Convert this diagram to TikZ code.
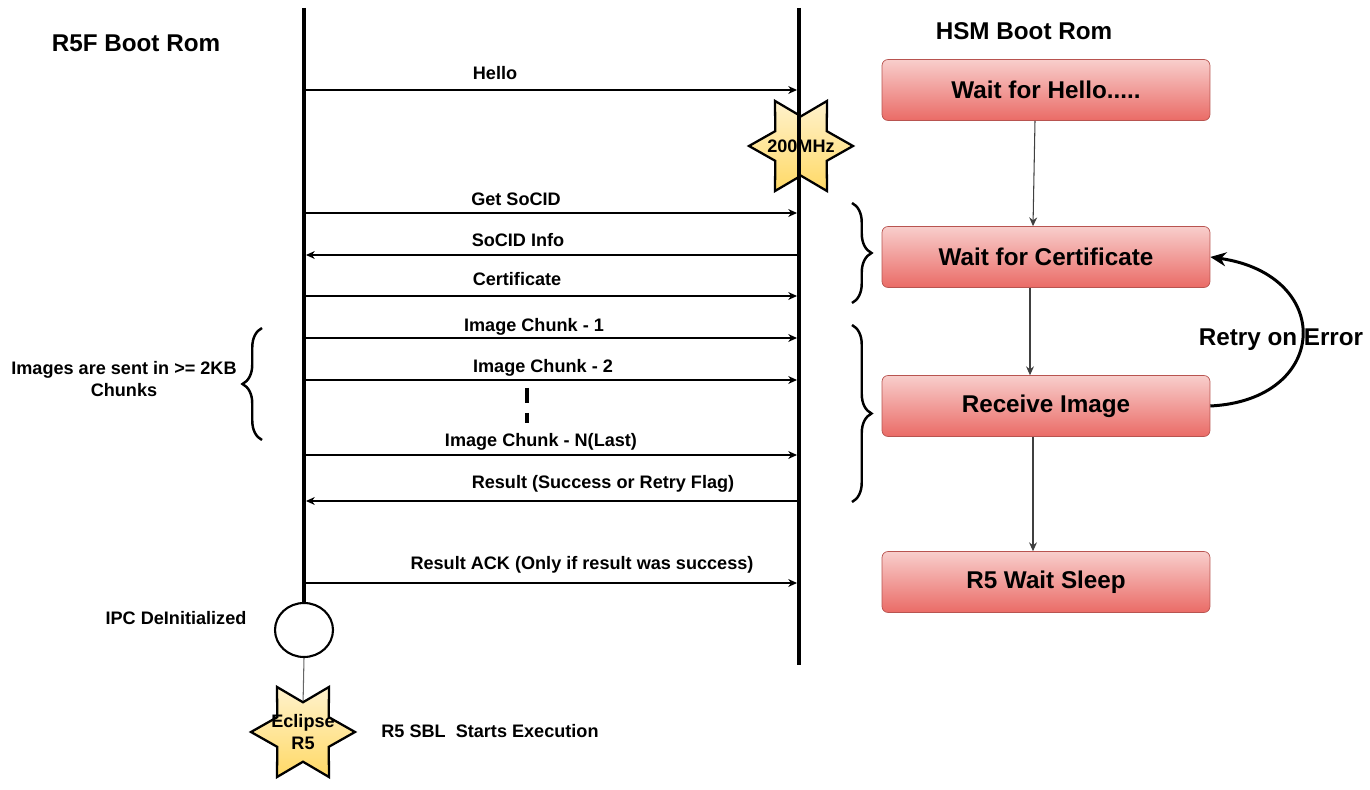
\documentclass[tikz,border=0pt]{standalone}
\usepackage{fontspec}
\setmainfont{Liberation Sans}
\usetikzlibrary{arrows.meta,shapes.geometric,decorations.pathreplacing}
\definecolor{boxtop}{HTML}{F8CECC}
\definecolor{boxbot}{HTML}{EA6B66}
\definecolor{boxline}{HTML}{B85450}
\definecolor{startop}{HTML}{FFF2CC}
\definecolor{starbot}{HTML}{FFD966}

\begin{document}
\begin{tikzpicture}[x=0.02cm,y=-0.02cm,
  small/.style={font=\fontsize{10.3}{13}\selectfont\bfseries},
  big/.style={font=\fontsize{13.8}{16}\selectfont\bfseries},
  life/.style={line width=2.2pt},
  msg/.style={line width=0.6pt,-{Stealth[length=5pt,width=4.5pt]}},
  state/.style={big,draw=boxline,top color=boxtop,bottom color=boxbot,rounded corners=0.12cm,
    minimum width=6.56cm,minimum height=1.22cm},
  starburst/.style={star,star points=6,star point ratio=1.75,shape border rotate=30,draw,
    line width=1.3pt,top color=startop,bottom color=starbot,minimum size=2.08cm,inner sep=0pt},
  flow/.style={draw=black!75,line width=0.6pt,-{Stealth[length=5pt,width=4.5pt]}},
  brc/.style={decorate,decoration={brace,amplitude=0.39cm},line width=1.4pt}]
      \useasboundingbox (0,0) rectangle (1370,790);
      \node[big] at (136,43) {R5F Boot Rom};
      \node[big] at (1024,31) {HSM Boot Rom};
      % HSM side
      \node[state] (hello) at (1046,90) {Wait for Hello.....};
      \node[state] (cert) at (1046,257) {Wait for Certificate};
      \node[state] (recv) at (1046,406) {Receive Image};
      \node[state] (sleep) at (1046,582) {R5 Wait Sleep};
      \draw[flow] ([xshift=-0.22cm]hello.south) -- ([xshift=-0.26cm]cert.north);
      \draw[flow] ([xshift=-0.32cm]cert.south) -- ([xshift=-0.32cm]recv.north);
      \draw[flow] ([xshift=-0.26cm]recv.south) -- ([xshift=-0.26cm]sleep.north);
      \draw[line width=1.7pt,-{Stealth[length=9pt,width=8pt]}] (recv.east) .. controls (1330,400) and (1335,275) .. (cert.east);
      \node[big] at (1281,340) {Retry on Error};
      % lifelines
      \node[starburst] (clk) at (801,146) {};
      \node[draw,ellipse,line width=1.2pt,minimum width=1.16cm,minimum height=1.08cm] (ipc) at (304,630) {};
      \coordinate (r5top) at (304,8);
      \coordinate (hsmtop) at (799,8);
      \coordinate (hsmbot) at (799,665);
      \draw[life] (r5top) -- (ipc.north);
      \draw[life] (hsmtop) -- (hsmbot);
      \node[small] at (clk) {200MHz};
      \draw[black!60,line width=0.6pt] (ipc.south) -- (303,705) coordinate (ecltop);
      \node[starburst] (ecl) at (303,732) {};
      \node[small,align=center] at (ecl) {Eclipse\\R5};
      % messages
      \foreach \y/\n in {90/hi,213/gs,296/ce,338/ca,380/cb,455/cn,583/ack}{
      \coordinate (\n a) at (306,\y); \coordinate (\n b) at (797,\y);
      \draw[msg] (\n a) -- (\n b); }
      \foreach \y/\n in {255/si,501/rs}{
      \coordinate (\n a) at (306,\y); \coordinate (\n b) at (797,\y);
      \draw[msg] (\n b) -- (\n a); }
      \foreach \x/\y/\t in {495/73/Hello, 516/199/Get SoCID, 518/240/SoCID Info, 517/279/Certificate,
        534/327/Image Chunk - 1, 543/368/Image Chunk - 2, 541/442/{Image Chunk - N(Last)},
        603/484/{Result (Success or Retry Flag)}, 582/565/{Result ACK (Only if result was success)}}{
       \node[small] at (\x,\y) {\t}; }
      \draw[line width=2.2pt,dash pattern=on 0.3cm off 0.2cm] (527,388) -- (527,423);
      % braces
      \draw[brc] (262,440) -- (262,328);
      \draw[brc] (852,203) -- (852,303);
      \draw[brc] (852,325) -- (852,502);
      \node[small,align=center] at (124,379) {Images are sent in >= 2KB\\Chunks};
      \node[small] at (176,618) {IPC DeInitialized};
      \node[small] at (490,731) {R5 SBL\ \ Starts Execution};
\end{tikzpicture}
\end{document}
